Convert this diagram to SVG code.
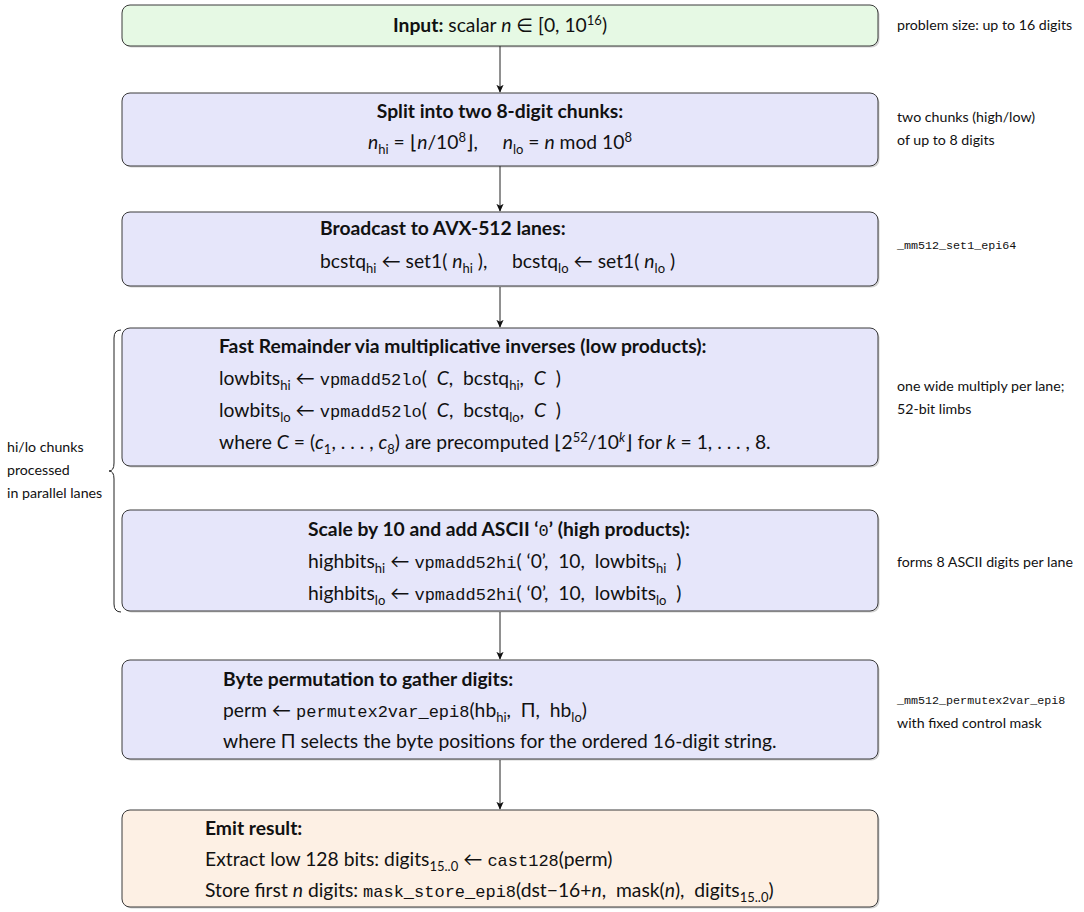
<svg xmlns="http://www.w3.org/2000/svg" width="1084" height="912" viewBox="0 0 1084 912">
<style>
  text { font-family: Lato, "Noto Sans", "DejaVu Sans", sans-serif; fill: #111; }
  .t { font-size: 19.3px; }
  .b { font-weight: bold; }
  .i { font-style: italic; }
  .m { font-family: "Liberation Mono", "DejaVu Sans Mono", monospace; font-size: 17px; }
  .s { font-size: 13px; }
  .ann { font-size: 14.2px; }
  .annm { font-family: "Liberation Mono", "DejaVu Sans Mono", monospace; font-size: 11.7px; }
  .box { stroke: #3a3a3a; stroke-width: 1; }
  .shadow { fill: #000; opacity: 0.18; }
  .green { fill: #e6f9e4; }
  .blue { fill: #e6e6fa; }
  .orange { fill: #fdf0e4; }
  .conn { stroke: #222; stroke-width: 1; fill: none; }
</style>
<defs>
  <marker id="arr" viewBox="0 0 10 10" refX="9" refY="5" markerWidth="8" markerHeight="8" markerUnits="userSpaceOnUse" orient="auto">
    <path d="M0,0.5 L10,5 L0,9.5 L2.5,5 Z" fill="#111"/>
  </marker>
</defs>
<rect width="1084" height="912" fill="#fff"/>

<g id="connectors">
  <line class="conn" x1="500" y1="46" x2="500" y2="92" marker-end="url(#arr)"/>
  <line class="conn" x1="500" y1="166" x2="500" y2="211" marker-end="url(#arr)"/>
  <line class="conn" x1="500" y1="287" x2="500" y2="327" marker-end="url(#arr)"/>
  <line class="conn" x1="500" y1="612" x2="500" y2="659" marker-end="url(#arr)"/>
  <line class="conn" x1="500" y1="760" x2="500" y2="809" marker-end="url(#arr)"/>
</g>

<g id="input">
  <rect class="shadow" x="123.5" y="6.5" width="756" height="41" rx="8"/>
  <rect class="box green" x="122" y="5" width="756" height="41" rx="8"/>
  <text class="t" x="500" y="32" text-anchor="middle"><tspan class="b">Input:</tspan> scalar <tspan class="i">n</tspan> ∈ [0, 10<tspan class="s" dy="-7">16</tspan><tspan dy="7">)</tspan></text>
</g>

<g id="split">
  <rect class="shadow" x="123.5" y="94.5" width="756" height="73" rx="8"/>
  <rect class="box blue" x="122" y="93" width="756" height="73" rx="8"/>
  <text class="t b" x="500" y="118" text-anchor="middle">Split into two 8-digit chunks:</text>
  <text class="t" x="500" y="149" text-anchor="middle" xml:space="preserve"><tspan class="i">n</tspan><tspan class="s" dy="4.5">hi</tspan><tspan dy="-4.5"> = ⌊</tspan><tspan class="i">n</tspan>/10<tspan class="s" dy="-7">8</tspan><tspan dy="7">⌋,     </tspan><tspan class="i">n</tspan><tspan class="s" dy="4.5">lo</tspan><tspan dy="-4.5"> = </tspan><tspan class="i">n</tspan> mod 10<tspan class="s" dy="-7">8</tspan></text>
</g>

<g id="broadcast">
  <rect class="shadow" x="123.5" y="213.5" width="756" height="74" rx="8"/>
  <rect class="box blue" x="122" y="212" width="756" height="74" rx="8"/>
  <text class="t b" x="320" y="235">Broadcast to AVX-512 lanes:</text>
  <text class="t" x="320" y="268" xml:space="preserve">bcstq<tspan class="s" dy="4.5">hi</tspan><tspan dy="-4.5"> ← set1( </tspan><tspan class="i">n</tspan><tspan class="s" dy="4.5">hi</tspan><tspan dy="-4.5"> ),     bcstq</tspan><tspan class="s" dy="4.5">lo</tspan><tspan dy="-4.5"> ← set1( </tspan><tspan class="i">n</tspan><tspan class="s" dy="4.5">lo</tspan><tspan dy="-4.5"> )</tspan></text>
</g>

<g id="remainder">
  <rect class="shadow" x="123.5" y="329.5" width="756" height="138" rx="8"/>
  <rect class="box blue" x="122" y="328" width="756" height="138" rx="8"/>
  <text class="t b" x="219" y="353">Fast Remainder via multiplicative inverses (low products):</text>
  <text class="t" x="219" y="385" xml:space="preserve">lowbits<tspan class="s" dy="4.5">hi</tspan><tspan dy="-4.5"> ← </tspan><tspan class="m">vpmadd52lo</tspan>(  <tspan class="i">C</tspan>,  bcstq<tspan class="s" dy="4.5">hi</tspan><tspan dy="-4.5">,  </tspan><tspan class="i">C</tspan>  )</text>
  <text class="t" x="219" y="417" xml:space="preserve">lowbits<tspan class="s" dy="4.5">lo</tspan><tspan dy="-4.5"> ← </tspan><tspan class="m">vpmadd52lo</tspan>(  <tspan class="i">C</tspan>,  bcstq<tspan class="s" dy="4.5">lo</tspan><tspan dy="-4.5">,  </tspan><tspan class="i">C</tspan>  )</text>
  <text class="t" x="219" y="449" xml:space="preserve">where <tspan class="i">C</tspan> = (<tspan class="i">c</tspan><tspan class="s" dy="4.5">1</tspan><tspan dy="-4.5">, . . . , </tspan><tspan class="i">c</tspan><tspan class="s" dy="4.5">8</tspan><tspan dy="-4.5">) are precomputed ⌊2</tspan><tspan class="s" dy="-7">52</tspan><tspan dy="7">/10</tspan><tspan class="s i" dy="-7">k</tspan><tspan dy="7">⌋ for </tspan><tspan class="i">k</tspan> = 1, . . . , 8.</text>
</g>

<g id="scale">
  <rect class="shadow" x="123.5" y="511.5" width="756" height="101" rx="8"/>
  <rect class="box blue" x="122" y="510" width="756" height="101" rx="8"/>
  <text class="t" x="308" y="536"><tspan class="b">Scale by 10 and add ASCII ‘</tspan><tspan class="m">0</tspan><tspan class="b">’ (high products):</tspan></text>
  <text class="t" x="308" y="568" xml:space="preserve">highbits<tspan class="s" dy="4.5">hi</tspan><tspan dy="-4.5"> ← </tspan><tspan class="m">vpmadd52hi</tspan>( ‘0’,  10,  lowbits<tspan class="s" dy="4.5">hi</tspan><tspan dy="-4.5">  )</tspan></text>
  <text class="t" x="308" y="600" xml:space="preserve">highbits<tspan class="s" dy="4.5">lo</tspan><tspan dy="-4.5"> ← </tspan><tspan class="m">vpmadd52hi</tspan>( ‘0’,  10,  lowbits<tspan class="s" dy="4.5">lo</tspan><tspan dy="-4.5">  )</tspan></text>
</g>

<g id="permute">
  <rect class="shadow" x="123.5" y="661.5" width="756" height="99" rx="8"/>
  <rect class="box blue" x="122" y="660" width="756" height="99" rx="8"/>
  <text class="t b" x="223" y="686">Byte permutation to gather digits:</text>
  <text class="t" x="223" y="717" xml:space="preserve">perm ← <tspan class="m">permutex2var_epi8</tspan>(hb<tspan class="s" dy="4.5">hi</tspan><tspan dy="-4.5">,  Π,  hb</tspan><tspan class="s" dy="4.5">lo</tspan><tspan dy="-4.5">)</tspan></text>
  <text class="t" x="223" y="748">where Π selects the byte positions for the ordered 16-digit string.</text>
</g>

<g id="emit">
  <rect class="shadow" x="123.5" y="811.5" width="756" height="97" rx="8"/>
  <rect class="box orange" x="122" y="810" width="756" height="97" rx="8"/>
  <text class="t b" x="205" y="835">Emit result:</text>
  <text class="t" x="205" y="866" xml:space="preserve">Extract low 128 bits: digits<tspan class="s" dy="4.5">15..0</tspan><tspan dy="-4.5"> ← </tspan><tspan class="m">cast128</tspan>(perm)</text>
  <text class="t" x="205" y="897" xml:space="preserve">Store first <tspan class="i">n</tspan> digits: <tspan class="m">mask_store_epi8</tspan>(dst−16+<tspan class="i">n</tspan>,  mask(<tspan class="i">n</tspan>),  digits<tspan class="s" dy="4.5">15..0</tspan><tspan dy="-4.5">)</tspan></text>
</g>

<g id="annotations">
  <text class="ann" x="897" y="30">problem size: up to 16 digits</text>
  <text class="ann" x="897" y="122">two chunks (high/low)</text>
  <text class="ann" x="897" y="145">of up to 8 digits</text>
  <text class="annm" x="897" y="249">_mm512_set1_epi64</text>
  <text class="ann" x="897" y="391">one wide multiply per lane;</text>
  <text class="ann" x="897" y="414">52-bit limbs</text>
  <text class="ann" x="897" y="567">forms 8 ASCII digits per lane</text>
  <text class="annm" x="897" y="704">_mm512_permutex2var_epi8</text>
  <text class="ann" x="897" y="728">with fixed control mask</text>
</g>

<g id="brace">
  <path class="conn" d="M121,330 Q114,330 114,338 L114,463 Q114,471 109,471 Q114,471 114,479 L114,604 Q114,612 121,612"/>
  <text class="ann" x="7" y="452">hi/lo chunks</text>
  <text class="ann" x="7" y="475">processed</text>
  <text class="ann" x="7" y="498">in parallel lanes</text>
</g>
</svg>
